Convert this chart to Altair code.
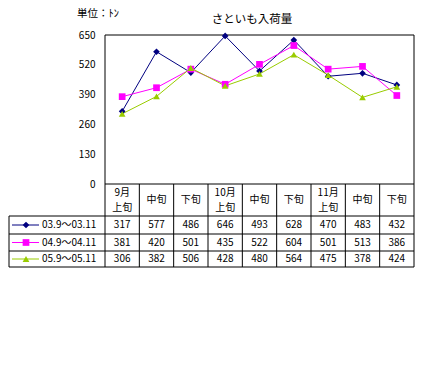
import altair as alt
import pandas as pd

periods = ["9月\n上旬", "中旬", "下旬", "10月\n上旬", "中旬", "下旬", "11月\n上旬", "中旬", "下旬"]
series = ["03.9～03.11", "04.9～04.11", "05.9～05.11"]
v03 = [317, 577, 486, 646, 493, 628, 470, 483, 432]
v04 = [381, 420, 501, 435, 522, 604, 501, 513, 386]
v05 = [306, 382, 506, 428, 480, 564, 475, 378, 424]
colors = ["#000080", "#FF00FF", "#99CC00"]
shapes = ["diamond", "square", "triangle-up"]
yticks = [0, 130, 260, 390, 520, 650]
title_text = "さといも入荷量"
unit_text = "単位：ﾄﾝ"

FONT = "Noto Sans CJK JP"
W = 309          # plot width (px)
PH = 149         # line-chart part height (px)
TH = 232         # plot + table height (px)
YMAX = 650
K = YMAX / PH
NC = len(periods)


def yv(px):  # px below plot top -> y value
    return YMAX - px * K


def xv(px):  # absolute page x -> x value
    return (px - 105) * NC / W


YMIN = yv(TH)
ROW_Y = [yv(190), yv(207.5), yv(224)]
LINE_Y = [yv(181), yv(199), yv(216), yv(TH)]
LEG_L = xv(9)

all_vals = [v03, v04, v05]
rows = []
for s, vals, ry in zip(series, all_vals, ROW_Y):
    for i, v in enumerate(vals):
        rows.append({"series": s, "x": i + 0.5, "value": v, "ry": ry})
df = pd.DataFrame(rows)

hrows = []
for i, lab in enumerate(periods):
    parts = lab.split("\n")
    if len(parts) == 2:
        hrows.append({"x": i + 0.5, "label": parts[0], "y": yv(157.5)})
        hrows.append({"x": i + 0.5, "label": parts[1], "y": yv(172.5)})
    else:
        hrows.append({"x": i + 0.5, "label": parts[0], "y": yv(165)})
head = pd.DataFrame(hrows)

leg = pd.DataFrame({"series": series, "y": ROW_Y, "x1": xv(12), "x2": xv(39),
                    "xm": xv(26), "xt": xv(42)})

xs = alt.Scale(domain=[0, NC], nice=False, zero=False)
ys = alt.Scale(domain=[YMIN, YMAX], nice=False, zero=False)
col = alt.Scale(domain=series, range=colors)
shp = alt.Scale(domain=series, range=shapes)

yaxis = alt.Axis(values=yticks, ticks=False, domain=False, grid=False, labelPadding=10,
                 labelFontSize=10, labelColor="black", labelFont=FONT, title=None)

base = alt.Chart(df)

lines = base.mark_line(strokeWidth=1).encode(
    x=alt.X("x:Q", scale=xs, axis=None),
    y=alt.Y("value:Q", scale=ys, axis=yaxis),
    color=alt.Color("series:N", scale=col, legend=None),
    detail="series:N",
)
points = base.mark_point(filled=True, size=45, opacity=1).encode(
    x=alt.X("x:Q", scale=xs, axis=None),
    y=alt.Y("value:Q", scale=ys, axis=yaxis),
    color=alt.Color("series:N", scale=col, legend=None),
    shape=alt.Shape("series:N", scale=shp, legend=None),
)

# vertical lines: plot frame sides + table columns
vx, vy, vy2 = [], [], []
for i in range(NC + 1):
    vx.append(i)
    vy.append(YMAX if i in (0, NC) else 0)
    vy2.append(YMIN)
vx.append(LEG_L)
vy.append(LINE_Y[0])
vy2.append(YMIN)
vl = pd.DataFrame({"x": vx, "y": vy, "y2": vy2})
vrules = alt.Chart(vl).mark_rule(color="black", strokeWidth=1).encode(
    x=alt.X("x:Q", scale=xs, axis=None), y=alt.Y("y:Q", scale=ys, axis=yaxis), y2="y2")

# horizontal lines: plot frame top/bottom + table rows
hy = [YMAX, 0] + LINE_Y
hx = [0, 0] + [LEG_L] * len(LINE_Y)
hl = pd.DataFrame({"y": hy, "x": hx, "x2": NC})
hrules = alt.Chart(hl).mark_rule(color="black", strokeWidth=1).encode(
    y=alt.Y("y:Q", scale=ys, axis=yaxis), x=alt.X("x:Q", scale=xs, axis=None), x2="x2")

headers = alt.Chart(head).mark_text(font=FONT, fontSize=10, baseline="middle",
                                    color="black").encode(
    x=alt.X("x:Q", scale=xs, axis=None), y=alt.Y("y:Q", scale=ys, axis=yaxis), text="label:N")

cells = base.mark_text(font=FONT, fontSize=10, baseline="middle", color="black").encode(
    x=alt.X("x:Q", scale=xs, axis=None), y=alt.Y("ry:Q", scale=ys, axis=yaxis), text="value:Q")

leg_lines = alt.Chart(leg).mark_rule(strokeWidth=1).encode(
    x=alt.X("x1:Q", scale=xs, axis=None), x2="x2", y=alt.Y("y:Q", scale=ys, axis=yaxis),
    color=alt.Color("series:N", scale=col, legend=None))
leg_pts = alt.Chart(leg).mark_point(filled=True, size=45, opacity=1).encode(
    x=alt.X("xm:Q", scale=xs, axis=None), y=alt.Y("y:Q", scale=ys, axis=yaxis),
    color=alt.Color("series:N", scale=col, legend=None),
    shape=alt.Shape("series:N", scale=shp, legend=None))
leg_txt = alt.Chart(leg).mark_text(font=FONT, fontSize=10, align="left", baseline="middle",
                                   color="black").encode(
    x=alt.X("xt:Q", scale=xs, axis=None), y=alt.Y("y:Q", scale=ys, axis=yaxis),
    text="series:N")

ttl = pd.DataFrame({"t": [title_text], "x": [xv(252)], "y": [yv(-15)]})
title = alt.Chart(ttl).mark_text(font=FONT, fontSize=11.5, baseline="middle", align="center",
                                 color="black").encode(
    x=alt.X("x:Q", scale=xs, axis=None), y=alt.Y("y:Q", scale=ys, axis=yaxis), text="t:N")

unit = pd.DataFrame({"t": [unit_text], "x": [xv(77)], "y": [yv(-21)]})
unit_lbl = alt.Chart(unit).mark_text(font=FONT, fontSize=10.5, baseline="middle", align="left",
                                     color="black").encode(
    x=alt.X("x:Q", scale=xs, axis=None), y=alt.Y("y:Q", scale=ys, axis=yaxis), text="t:N")

chart = alt.layer(vrules, hrules, lines, points, headers, cells,
                  leg_lines, leg_pts, leg_txt, title, unit_lbl).properties(
    width=W, height=TH, background="white",
    autosize=alt.AutoSizeParams(type="none"),
    padding={"left": 97, "top": 27, "right": 8, "bottom": 60},
).configure_view(stroke=None)

chart.save("out.html", embed_options={"renderer": "svg", "actions": False})
